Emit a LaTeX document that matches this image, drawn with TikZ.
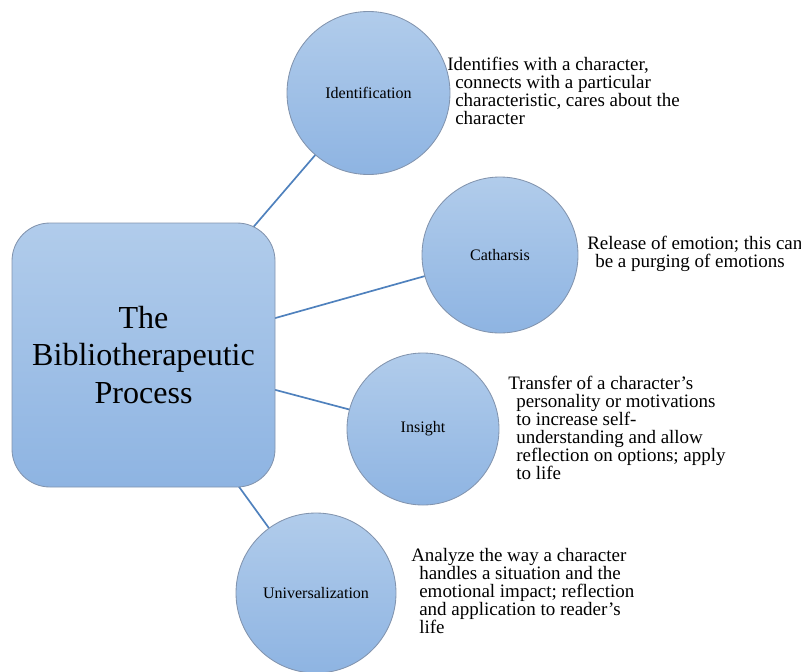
\documentclass[tikz,border=0pt]{standalone}
\usepackage{fontspec}
\setmainfont{Liberation Serif}
\usetikzlibrary{backgrounds}
\definecolor{linkblue}{RGB}{79,129,189}
\definecolor{filltop}{RGB}{177,204,235}
\definecolor{fillbot}{RGB}{142,180,226}
\definecolor{rimgray}{RGB}{130,148,174}
\newcommand{\notegap}{\hspace*{5.7pt}}
\tikzset{
  stage/.style={circle, draw=rimgray, line width=0.6pt, top color=filltop, bottom color=fillbot,
    minimum size=#1*0.025cm, inner sep=0pt, font=\fontsize{11.4}{13}\selectfont},
  hub/.style={rectangle, rounded corners=27pt, draw=rimgray, line width=0.6pt,
    top color=filltop, bottom color=fillbot, minimum width=263*0.025cm, minimum height=264*0.025cm,
    align=center, font=\fontsize{22.8}{27}\selectfont},
  % base is the last line here
  note/.style={anchor=base west, inner sep=0pt, align=left, font=\fontsize{13.5}{12.75}\selectfont},
  link/.style={every edge/.style={draw=linkblue, line width=1.2pt}},
}
\begin{document}
\begin{tikzpicture}[x=0.025cm, y=-0.025cm]
	\useasboundingbox (0,0) rectangle (801,671);
	\node[hub] (hub) at (143.5,355) {The\\Bibliotherapeutic\\Process};
	\node[stage=163] (ident) at (368.5,93) {Identification};
	\node[stage=156] (cathar) at (500,255) {Catharsis};
	\node[stage=152] (insight) at (423,429) {Insight};
	\node[stage=160] (univ) at (316,593) {Universalization};
	\node[note] (identtxt) at (447,124) {Identifies with a character,\\
	\notegap connects with a particular\\
	\notegap characteristic, cares about the\\
	\notegap character};
	\node[note] (cathartxt) at (587,267) {Release of emotion; this can\\
	\notegap be a purging of emotions};
	\node[note] (insighttxt) at (508,479) {Transfer of a character’s\\
	\notegap personality or motivations\\
	\notegap to increase self-\\
	\notegap understanding and allow\\
	\notegap reflection on options; apply\\
	\notegap to life};
	\node[note] (univtxt) at (411,633) {Analyze the way a character\\
	\notegap handles a situation and the\\
	\notegap emotional impact; reflection\\
	\notegap and application to reader’s\\
	\notegap life};
	\begin{scope}[on background layer]
	\path[link]
	(hub.center) edge (ident.center)
	(hub.center) edge (cathar.center)
	(hub.center) edge (insight.center)
	(hub.center) edge (univ.center);
	\end{scope}
\end{tikzpicture}
\end{document}
